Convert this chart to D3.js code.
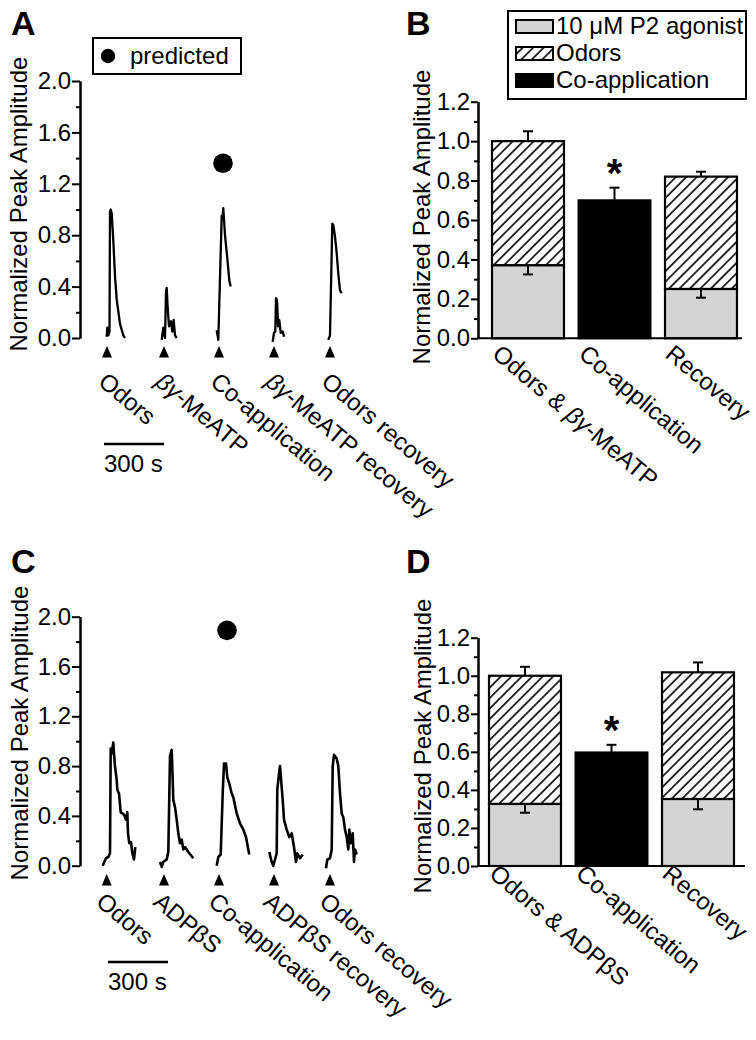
<!DOCTYPE html>
<html><head><meta charset="utf-8">
<script src="https://cdn.jsdelivr.net/npm/d3@7"></script>
<style>
body{margin:0;background:#fff}
svg{display:block}
text{font-family:"Liberation Sans",Arial,Helvetica,sans-serif;fill:#000}
</style>
</head><body>
<svg id="c" width="756" height="1040"></svg>
<script>
// ---------------- DATA ----------------
// Panel A traces: [time (s), normalized amplitude]
const A_odors = [[133.5,0.01],[136.5,0.08],[141.5,0.02],[147.5,0.05],[150,0.98],[153.5,1.0],[158.5,0.97],[166.5,0.76],[175,0.48],[183.5,0.3],[200,0.11],[216.5,0.02],[225,0.0]];
const A_agonist = [[408.5,-0.015],[416.5,0.08],[425,0.0],[430,0.36],[433.5,0.39],[438.5,0.23],[445,0.09],[455,0.13],[461.5,0.05],[468.5,0.14],[475,0.02],[483.5,0.0]];
const A_coapp = [[683.5,0.06],[691.5,-0.015],[708.5,0.95],[712,0.93],[716.5,1.01],[725,0.8],[736.5,0.62],[746.5,0.45],[753.5,0.4]];
const A_agonistRec = [[963.5,-0.03],[970,0.04],[976.5,0.05],[980,0.31],[983.5,0.3],[986.5,0.26],[990,0.09],[996.5,0.14],[1003.5,0.04],[1013.5,0.05],[1020,0.01]];
const A_odorsRec = [[1241.5,-0.015],[1250,0.02],[1261.5,0.89],[1266.5,0.88],[1275,0.79],[1283.5,0.66],[1291.5,0.5],[1300,0.37],[1308.5,0.35]];
const onsetsA = [135, 420, 695, 970, 1250];
const labelsA = ["Odors","βγ-MeATP","Co-application","βγ-MeATP recovery","Odors recovery"];
const predictedA = [715, 1.36];

// Panel C traces
const C_odors = [[113.5,0.0],[130,0.06],[141.5,0.07],[150,0.1],[153.5,0.94],[158.5,0.9],[166.5,0.99],[170,0.9],[175,0.8],[183.5,0.69],[186.5,0.61],[195,0.58],[203.5,0.43],[220,0.41],[230,0.37],[236.5,0.43],[240,0.26],[246.5,0.18],[255,0.19],[261.5,0.1],[270,0.05],[276.5,0.15]];
const C_agonist = [[400,0.03],[408.5,-0.01],[416.5,0.03],[433.5,0.05],[441.5,0.11],[450,0.88],[458.5,0.93],[463.5,0.69],[466.5,0.53],[475,0.47],[483.5,0.37],[491.5,0.26],[500,0.18],[508.5,0.21],[516.5,0.13],[525,0.15],[541.5,0.11],[566.5,0.06]];
const C_coapp = [[683.5,0.0],[691.5,0.07],[703.5,0.09],[713.5,0.58],[720,0.82],[730,0.82],[736.5,0.71],[746.5,0.66],[758.5,0.58],[766.5,0.55],[783.5,0.42],[800,0.34],[816.5,0.29],[830,0.23],[841.5,0.13],[846.5,0.09]];
const C_agonistRec = [[946.5,0.11],[958.5,0.03],[966.5,0.0],[975,0.05],[983.5,0.1],[986.5,0.61],[995,0.74],[1000,0.8],[1008.5,0.63],[1013.5,0.53],[1020,0.37],[1033.5,0.29],[1046.5,0.23],[1058.5,0.26],[1070,0.15],[1080,0.03],[1086.5,0.1],[1100,0.06],[1113.5,0.09]];
const C_odorsRec = [[1230,-0.02],[1236.5,0.05],[1250,0.06],[1258.5,0.13],[1263.5,0.8],[1270,0.89],[1283.5,0.86],[1291.5,0.8],[1300,0.58],[1308.5,0.42],[1316.5,0.39],[1325,0.29],[1333.5,0.23],[1341.5,0.13],[1346.5,0.29],[1353.5,0.18],[1363.5,0.26],[1370,0.03],[1375,0.13],[1383.5,0.09]];
const onsetsC = [133.5, 420, 695, 970, 1250];
const labelsC = ["Odors","ADPβS","Co-application","ADPβS recovery","Odors recovery"];
const predictedC = [735, 1.89];

const traceTicks = [0, 0.4, 0.8, 1.2, 1.6, 2.0];
const traceMinorTicks = [0.2, 0.6, 1.0, 1.4, 1.8];
const scaleBarSeconds = 300;

// Panel B bars
const categoriesB = ["Odors & βγ-MeATP","Co-application","Recovery"];
const agonistB = [0.37, null, 0.25];
const agonistErrB = [0.046, null, 0.044];
const totalB = [1.0, 0.70, 0.82];
const totalErrB = [0.05, 0.064, 0.025];

// Panel D bars
const categoriesD = ["Odors & ADPβS","Co-application","Recovery"];
const agonistD = [0.326, null, 0.352];
const agonistErrD = [0.046, null, 0.054];
const totalD = [1.0, 0.597, 1.018];
const totalErrD = [0.047, 0.04, 0.052];

const barTicks = [0, 0.2, 0.4, 0.6, 0.8, 1.0, 1.2];
const barMinorTicks = [0.1, 0.3, 0.5, 0.7, 0.9, 1.1];
const legendLabels = ["10 μM P2 agonist","Odors","Co-application"];

// ---------------- DRAWING ----------------
const svg = d3.select("#c");
const FS = 24;
const defs = svg.append("defs");
const pat = defs.append("pattern").attr("id","hatch").attr("patternUnits","userSpaceOnUse")
  .attr("width",7.4).attr("height",7.4).attr("patternTransform","rotate(45)");
pat.append("rect").attr("width",7.4).attr("height",7.4).attr("fill","#fff");
pat.append("line").attr("x1",3.7).attr("y1",0).attr("x2",3.7).attr("y2",7.4).attr("stroke","#000").attr("stroke-width",1.6);

function styleAxis(sel){
  sel.select(".domain").attr("stroke","#000").attr("stroke-width",2);
  sel.selectAll(".tick line").attr("stroke","#000").attr("stroke-width",2);
  sel.selectAll(".tick text").attr("font-size",FS).attr("font-family",'"Liberation Sans",Arial,sans-serif').attr("fill","#000");
}

function addLabelText(sel, str, italicGreek){
  const parts = str.match(/[α-ω]+|[^α-ω]+/g);
  parts.forEach(p=>{
    const t = sel.append("tspan").text(p);
    if(italicGreek && /[α-ω]/.test(p)) t.attr("font-style","italic");
  });
}

function panelLetter(txt, x, y){
  svg.append("text").attr("x",x).attr("y",y).attr("font-size",34).attr("font-weight","bold").text(txt);
}

function yTitle(x, y){
  svg.append("text").attr("transform",`translate(${x},${y}) rotate(-90)`).attr("text-anchor","middle")
    .attr("font-size",FS).text("Normalized Peak Amplitude");
}

function tracePanel(cfg){
  const g = svg.append("g");
  const x = d3.scaleLinear().domain([0,1900]).range([80,460]);
  const y = d3.scaleLinear().domain([0,2]).range([cfg.y0, cfg.y2]);
  const minor = g.append("g").attr("transform","translate(80,0)")
    .call(d3.axisLeft(y).tickValues(traceMinorTicks).tickSize(4).tickSizeOuter(0).tickFormat(""));
  styleAxis(minor);
  const ax = g.append("g").attr("transform","translate(80,0)")
    .call(d3.axisLeft(y).tickValues(traceTicks).tickSize(8).tickSizeOuter(0).tickPadding(1).tickFormat(d3.format(".1f")));
  styleAxis(ax);
  const line = d3.line().x(d=>x(d[0])).y(d=>y(d[1]));
  g.selectAll(".tr").data(cfg.traces).join("path").attr("d",line)
    .attr("fill","none").attr("stroke","#000").attr("stroke-width",cfg.sw).attr("stroke-linejoin","round");
  g.selectAll(".arr").data(cfg.onsets).join("path")
    .attr("d", d=>`M${x(d)},${cfg.arrowY-6} L${x(d)+5},${cfg.arrowY+5.5} L${x(d)-5},${cfg.arrowY+5.5} Z`)
    .attr("fill","#000");
  g.append("circle").attr("cx",x(cfg.pred[0])).attr("cy",y(cfg.pred[1])).attr("r",9.8).attr("fill","#000");
  cfg.labels.forEach((lab,i)=>{
    const t = g.append("text").attr("font-size",FS)
      .attr("transform",`translate(${x(cfg.onsets[i])+cfg.ldx},${cfg.ly}) rotate(40)`);
    addLabelText(t, lab, cfg.italic);
  });
  // scale bar
  g.append("line").attr("x1",x(cfg.sb)).attr("x2",x(cfg.sb+scaleBarSeconds)).attr("y1",cfg.sbY).attr("y2",cfg.sbY)
    .attr("stroke","#000").attr("stroke-width",2.5);
  g.append("text").attr("x",x(cfg.sb)).attr("y",cfg.sbY+28).attr("font-size",FS).text(scaleBarSeconds+" s");
  return {x,y,g};
}

function barPanel(cfg){
  const g = svg.append("g");
  const y = d3.scaleLinear().domain([0,1.2]).range([cfg.y0, cfg.yTop]);
  const x = d3.scaleBand().domain(cfg.cats).range(cfg.xr).paddingInner(0.168).paddingOuter(0.084);
  const bw = x.bandwidth();
  cfg.cats.forEach((c,i)=>{
    const x0 = x(c);
    const cx = x0+bw/2;
    if(cfg.ag[i]==null){
      g.append("rect").attr("x",x0).attr("y",y(cfg.tot[i])).attr("width",bw).attr("height",y(0)-y(cfg.tot[i]))
        .attr("fill","#000").attr("stroke","#000").attr("stroke-width",2);
    } else {
      g.append("rect").attr("x",x0).attr("y",y(cfg.tot[i])).attr("width",bw).attr("height",y(cfg.ag[i])-y(cfg.tot[i]))
        .attr("fill","url(#hatch)").attr("stroke","#000").attr("stroke-width",2.2);
      g.append("rect").attr("x",x0).attr("y",y(cfg.ag[i])).attr("width",bw).attr("height",y(0)-y(cfg.ag[i]))
        .attr("fill","#d4d4d4").attr("stroke","#000").attr("stroke-width",2.2);
      g.append("line").attr("x1",cx).attr("x2",cx).attr("y1",y(cfg.ag[i])).attr("y2",y(cfg.ag[i]-cfg.agErr[i])).attr("stroke","#000").attr("stroke-width",2);
      g.append("line").attr("x1",cx-5).attr("x2",cx+5).attr("y1",y(cfg.ag[i]-cfg.agErr[i])).attr("y2",y(cfg.ag[i]-cfg.agErr[i])).attr("stroke","#000").attr("stroke-width",2);
    }
    g.append("line").attr("x1",cx).attr("x2",cx).attr("y1",y(cfg.tot[i])).attr("y2",y(cfg.tot[i]+cfg.totErr[i])).attr("stroke","#000").attr("stroke-width",2);
    g.append("line").attr("x1",cx-5).attr("x2",cx+5).attr("y1",y(cfg.tot[i]+cfg.totErr[i])).attr("y2",y(cfg.tot[i]+cfg.totErr[i])).attr("stroke","#000").attr("stroke-width",2);
    if(cfg.ag[i]==null){
      g.append("text").attr("x",cx).attr("y",y(cfg.tot[i]+cfg.totErr[i])-1).attr("text-anchor","middle")
        .attr("font-size",40).attr("font-weight","bold").text("*");
    }
    const t = g.append("text").attr("font-size",FS)
      .attr("transform",`translate(${cx+cfg.ldx},${cfg.y0+cfg.ldy}) rotate(40)`);
    addLabelText(t, c, cfg.italic);
  });
  const minor = g.append("g").attr("transform","translate(478,0)")
    .call(d3.axisLeft(y).tickValues(barMinorTicks).tickSize(4).tickSizeOuter(0).tickFormat(""));
  styleAxis(minor);
  const ax = g.append("g").attr("transform","translate(478,0)")
    .call(d3.axisLeft(y).tickValues(barTicks).tickSize(7).tickSizeOuter(0).tickPadding(1).tickFormat(d3.format(".1f")));
  styleAxis(ax);
  g.append("line").attr("x1",477).attr("x2",cfg.xEnd).attr("y1",y(0)).attr("y2",y(0)).attr("stroke","#000").attr("stroke-width",2);
  return {x,y,g};
}

// Panel A
panelLetter("A", 11, 35);
yTitle(27, 204);
tracePanel({y0:338, y2:81, traces:[A_odors,A_agonist,A_coapp,A_agonistRec,A_odorsRec], onsets:onsetsA,
  pred:predictedA, labels:labelsA, italic:true, ldx:-10, ly:384, arrowY:352, sw:2.3, sb:120, sbY:444});
// predicted legend
svg.append("rect").attr("x",93).attr("y",38).attr("width",148).attr("height",36).attr("fill","#fff").attr("stroke","#000").attr("stroke-width",2);
svg.append("circle").attr("cx",108).attr("cy",56).attr("r",7.2).attr("fill","#000");
svg.append("text").attr("x",130).attr("y",64).attr("font-size",FS).text("predicted");

// Panel B
panelLetter("B", 406, 35);
yTitle(430, 217);
barPanel({y0:338.3, yTop:101.7, cats:categoriesB, ag:agonistB, agErr:agonistErrB, tot:totalB, totErr:totalErrB,
  xr:[484.75,744.25], xEnd:742, ldx:-37, ldy:18, italic:true});
// legend B
svg.append("rect").attr("x",508).attr("y",11).attr("width",238).attr("height",88).attr("fill","#fff").attr("stroke","#000").attr("stroke-width",2);
const legFills = ["#d4d4d4","url(#hatch)","#000"];
legendLabels.forEach((l,i)=>{
  svg.append("rect").attr("x",516).attr("y",20+i*27).attr("width",37).attr("height",13).attr("fill",legFills[i]).attr("stroke","#000").attr("stroke-width",2);
  svg.append("text").attr("x",556).attr("y",34+i*27).attr("font-size",FS).text(l);
});

// Panel C
panelLetter("C", 11, 573);
yTitle(28, 733);
tracePanel({y0:865.7, y2:616.7, traces:[C_odors,C_agonist,C_coapp,C_agonistRec,C_odorsRec], onsets:onsetsC,
  pred:predictedC, labels:labelsC, italic:false, ldx:-12, ly:904, arrowY:880, sw:2.6, sb:140, sbY:962});

// Panel D
panelLetter("D", 406, 573);
yTitle(431, 746);
barPanel({y0:866, yTop:637.7, cats:categoriesD, ag:agonistD, agErr:agonistErrD, tot:totalD, totErr:totalErrD,
  xr:[481.75,741.25], xEnd:745, ldx:-37, ldy:10, italic:false});
</script>
</body></html>
